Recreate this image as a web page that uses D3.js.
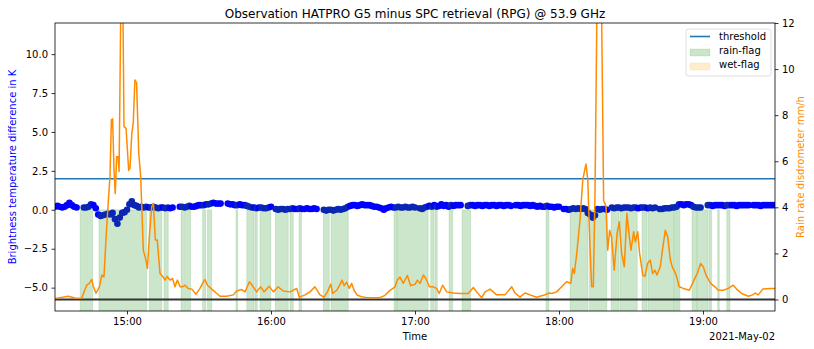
<!DOCTYPE html>
<html>
<head>
<meta charset="utf-8">
<script src="https://cdn.jsdelivr.net/npm/d3@7"></script>
<style>
  body { margin: 0; background: #fff; }
  text { font-family: "DejaVu Sans", sans-serif; }
</style>
</head>
<body>
<div id="chart"></div>
<script>
// start of the plotted period, all times below are minutes after it
const startTime = new Date(2021, 4, 2, 14, 30);
const threshold = 2.0;

// Tb difference (K), one value per minute from 14:30, null = no data
const tbDiff = [
  0.2, 0.25, 0.2, 0.15, 0.2, 0.3, 0.45, 0.3, 0.2, 0.15,
  null, null, 0.15, 0.15, 0.2, 0.35, 0.3, 0.1, -0.3, -0.4,
  -0.35, -0.3, -0.25, -0.3, -0.2, -0.6, -0.9, -0.5, -0.2, -0.15,
  0.0, 0.35, 0.55, 0.3, 0.25, 0.15, 0.2, 0.15, 0.2, 0.15,
  0.15, 0.2, 0.15, 0.1, 0.15, 0.15, 0.1, 0.15, 0.1, 0.15,
  null, null, 0.2, 0.2, 0.15, 0.2, 0.25, 0.2, 0.2, 0.25,
  0.3, 0.3, 0.3, 0.35, 0.35, 0.4, 0.45, 0.4, 0.4, 0.4,
  null, null, 0.4, 0.35, 0.35, 0.3, 0.3, 0.35, 0.3, 0.3,
  0.25, 0.2, 0.15, 0.15, 0.1, 0.15, 0.15, 0.1, 0.1, 0.15,
  0.2, null, 0.05, 0.0, 0.05, 0.05, 0.0, 0.05, 0.05, 0.1,
  0.05, 0.05, 0.1, 0.05, 0.05, 0.1, 0.05, 0.05, 0.1, 0.05,
  null, null, 0.0, -0.05, 0.0, 0.0, -0.05, 0.0, 0.05, 0.0,
  0.05, 0.1, 0.2, 0.25, 0.3, 0.3, 0.25, 0.3, 0.35, 0.3,
  0.3, 0.3, 0.25, 0.2, 0.2, 0.15, 0.1, 0.0, 0.1, 0.15,
  0.2, 0.15, 0.15, 0.2, 0.15, 0.15, 0.2, 0.15, 0.15, 0.2,
  0.15, null, 0.1, 0.05, 0.15, 0.2, 0.25, 0.2, 0.3, 0.2,
  0.25, 0.35, 0.25, 0.3, 0.2, 0.3, 0.25, 0.3, 0.3, 0.3,
  null, null, 0.25, 0.3, 0.3, 0.25, 0.3, 0.3, 0.25, 0.3,
  0.3, 0.25, 0.3, 0.3, 0.25, 0.3, 0.3, 0.25, 0.3, 0.3,
  0.25, null, 0.3, 0.3, 0.25, 0.3, 0.3, 0.3, 0.25, 0.3,
  0.25, 0.2, 0.25, 0.2, 0.2, 0.25, 0.2, 0.2, 0.15, 0.2,
  0.2, null, 0.05, 0.05, 0.0, 0.05, 0.1, 0.05, 0.1, 0.05,
  0.1, 0.05, -0.2, -0.3, -0.5, -0.35, 0.05, 0.0, 0.05, 0.05,
  0.0, null, 0.15, 0.1, 0.15, 0.15, 0.1, 0.15, 0.15, 0.15,
  0.1, 0.15, 0.15, 0.1, 0.15, 0.15, 0.15, 0.1, 0.15, 0.1,
  0.15, null, 0.05, 0.05, 0.1, 0.1, 0.1, 0.15, 0.15, 0.2,
  0.35, 0.35, 0.3, 0.35, 0.35, 0.3, 0.2, 0.15, 0.15, 0.15,
  null, null, 0.3, 0.3, 0.25, 0.3, 0.3, 0.3, 0.3, 0.25,
  0.3, 0.3, 0.3, 0.3, 0.25, 0.3, 0.3, 0.3, 0.3, 0.3,
  null, 0.3, 0.3, 0.3, 0.25, 0.3, 0.3, 0.3, 0.3, 0.3,
  0.3
];

// disdrometer rain rate (mm/h)
const rainTimeMin = [
  0, 2.1, 5.5, 8.3, 11.1, 13.2, 14.3, 15.3, 16.0, 17.1,
  18.5, 19.5, 20.4, 21.3, 22.2, 22.9, 23.5, 24.0, 24.6, 25.1,
  25.7, 26.3, 26.7, 27.9, 28.75, 29.6, 30.7, 31.25, 32.0, 32.6,
  33.3, 34.0, 34.9, 35.7, 36.8, 37.9, 38.5, 39.3, 40.3, 41.0,
  41.8, 42.6, 43.75, 44.9, 45.8, 46.8, 47.9, 49.0, 50.0, 51.0,
  52.1, 53.2, 54.2, 55.5, 57.0, 58.75, 60.4, 61.5, 62.5, 63.5,
  65.3, 67.4, 68.75, 71.5, 74.3, 75.7, 77.8, 79.2, 81.0, 82.6,
  84.0, 85.7, 87.1, 89.3, 91.0, 93.0, 95.1, 97.9, 100.7, 101.8,
  104.2, 106.25, 108.3, 110.4, 112.1, 113.5, 114.9, 115.7, 117.4, 118.5,
  119.6, 120.5, 121.5, 122.6, 123.6, 124.6, 126.0, 127.8, 129.9, 132.0,
  135.4, 137.5, 139.6, 141.7, 142.6, 143.75, 145.1, 146.8, 148.2, 150.0,
  151.0, 152.1, 153.5, 154.6, 156.0, 157.4, 159.0, 160.1, 161.5, 163.2,
  166.0, 168.75, 172.2, 174.3, 175.7, 177.8, 179.2, 181.25, 184.0, 187.5,
  190.3, 191.7, 193.75, 195.8, 197.9, 200.7, 203.5, 206.0, 207.0, 209.0,
  211.1, 213.2, 214.9, 215.7, 216.4, 217.4, 218.75, 219.9, 221.25, 222.0,
  222.9, 223.6, 224.3, 225.0, 226.75, 228.6, 229.6, 230.3, 231.1, 231.9,
  233.0, 234.2, 235.1, 236.1, 237.2, 238.3, 239.3, 240.0, 241.1, 241.8,
  242.8, 243.6, 244.9, 245.8, 246.9, 248.0, 249.0, 250.0, 250.8, 252.2,
  253.3, 254.3, 255.3, 256.4, 257.4, 258.0, 259.0, 260.1, 261.8, 264.3,
  266.25, 267.6, 269.0, 270.1, 271.5, 273.2, 275.0, 276.4, 278.5, 280.5,
  282.6, 284.0, 286.1, 288.9, 290.7, 291.7, 293.0, 294.9, 297.9, 300.0
];
const rainRate = [
  0.04, 0.08, 0.14, 0.06, 0.05, 0.62, 0.7, 0.87, 0.55, 0.27,
  0.55, 1.06, 0.98, 2.72, 4.24, 5.33, 7.8, 7.84, 5.6, 4.6,
  6.2, 6.2, 5.55, 17.5, 7.5, 7.43, 5.6, 5.7, 7.2, 7.65,
  9.53, 9.39, 6.35, 5.33, 2.14, 1.71, 1.35, 2.72, 4.03, 4.17,
  2.58, 2.58, 1.13, 1.0, 0.84, 1.0, 0.84, 0.91, 0.55, 0.84,
  0.55, 0.55, 0.62, 0.48, 0.45, 0.23, 0.48, 0.7, 0.87, 0.62,
  0.45, 0.26, 0.14, 0.14, 0.2, 0.37, 0.43, 0.33, 0.77, 0.55,
  0.33, 0.55, 0.33, 0.57, 0.33, 0.55, 0.37, 0.33, 0.48, 0.1,
  0.2, 0.33, 0.55, 0.2, 0.1, 0.33, 0.66, 0.26, 0.4, 0.6,
  0.84, 0.6, 0.75, 0.48, 0.7, 0.4, 0.18, 0.12, 0.08, 0.08,
  0.08, 0.18, 0.4, 0.55, 0.84, 0.97, 0.7, 1.04, 0.6, 0.66,
  0.84, 0.7, 1.06, 0.9, 0.55, 0.55, 0.48, 0.26, 0.62, 0.33,
  0.28, 0.26, 0.26, 0.52, 0.33, 0.08, 0.33, 0.45, 0.2, 0.2,
  0.55, 0.28, 0.1, 0.28, 0.2, 0.1, 0.18, 0.28, 0.26, 0.33,
  0.55, 0.77, 0.7, 1.35, 1.13, 2.0, 3.45, 5.19, 5.88, 5.19,
  2.29, 0.55, 0.55, 4.6, 22, 4.3, 4.03, 2.14, 3.0, 2.72,
  1.27, 2.87, 3.37, 2.0, 1.42, 3.74, 2.72, 2.14, 2.94, 2.5,
  2.94, 2.0, 1.06, 1.0, 1.56, 1.71, 1.13, 1.27, 1.06, 1.42,
  2.29, 3.0, 2.72, 1.71, 1.35, 1.27, 1.0, 0.55, 0.48, 0.4,
  0.84, 1.13, 1.56, 1.42, 1.0, 0.7, 0.55, 0.4, 0.4, 0.48,
  0.62, 0.45, 0.26, 0.14, 0.2, 0.28, 0.2, 0.45, 0.48, 0.48
];

// rain-flag periods (minutes after 14:30)
const rainFlagStart = [10.5, 18.3, 39.3, 45.4, 52.5, 53.9, 61.5, 63.5, 75.4, 79.9, 83.3, 85.4,
  91.8, 97.9, 101.7, 111.8, 115.0, 141.25, 142.7, 156.5, 158.3, 164.2, 169.6, 204.6,
  214.6, 222.7, 231.7, 235.4, 244.6, 247.1, 258.0, 259.3, 265.4, 267.5, 272.5, 276.1, 279.9];
const rainFlagEnd = [15.7, 38.2, 44.5, 47.2, 53.5, 56.5, 62.8, 65.3, 76.1, 82.9, 84.3, 89.9,
  97.2, 99.3, 102.7, 114.3, 122.2, 142.5, 155.5, 157.9, 159.3, 165.7, 173.2, 205.8,
  222.1, 229.9, 235.0, 242.6, 246.7, 257.8, 259.0, 260.4, 267.3, 272.1, 273.6, 276.8, 281.25];

const leftTicks = [-5, -2.5, 0, 2.5, 5, 7.5, 10];
const rightTicks = [0, 2, 4, 6, 8, 10, 12];
const hourTicks = [15, 16, 17, 18, 19];

const width = 814, height = 349;
const margin = {top: 23, right: 39, bottom: 38, left: 55};
const plotW = width - margin.left - margin.right;
const plotH = height - margin.top - margin.bottom;

const toTime = m => new Date(startTime.getTime() + m * 60000);

const x = d3.scaleTime()
  .domain([toTime(0), toTime(300)])
  .range([margin.left, margin.left + plotW]);
const yL = d3.scaleLinear().domain([-6.5, 12]).range([margin.top + plotH, margin.top]);
const yR = d3.scaleLinear().domain([-0.5, 12]).range([margin.top + plotH, margin.top]);

const svg = d3.select('#chart').append('svg')
  .attr('width', width)
  .attr('height', height);

svg.append('defs').append('clipPath').attr('id', 'plot-clip')
  .append('rect')
  .attr('x', margin.left).attr('y', margin.top)
  .attr('width', plotW).attr('height', plotH);

const plot = svg.append('g').attr('clip-path', 'url(#plot-clip)');

// rain flag fills, from the bottom up to 0 K
const flags = d3.zip(rainFlagStart, rainFlagEnd);
plot.selectAll('.rain-flag')
  .data(flags)
  .enter()
  .append('rect')
  .attr('class', 'rain-flag')
  .attr('x', d => x(toTime(d[0])))
  .attr('width', d => x(toTime(d[1])) - x(toTime(d[0])))
  .attr('y', yL(0))
  .attr('height', yL(-6.5) - yL(0))
  .attr('fill', 'green')
  .attr('fill-opacity', 0.2)
  .attr('stroke', 'green')
  .attr('stroke-opacity', 0.12)
  .attr('stroke-width', 1);

const isFlagged = m => flags.some(f => m >= f[0] && m <= f[1]);

// Tb difference points
const tbPoints = tbDiff.map((v, i) => ({m: i, v: v})).filter(d => d.v !== null);
plot.selectAll('.tb-pt')
  .data(tbPoints)
  .enter()
  .append('circle')
  .attr('class', 'tb-pt')
  .attr('cx', d => x(toTime(d.m)))
  .attr('cy', d => yL(d.v))
  .attr('r', 3.3)
  .attr('fill', d => isFlagged(d.m) ? '#0a26b2' : '#0000ff');

// threshold line
plot.append('line')
  .attr('x1', margin.left).attr('x2', margin.left + plotW)
  .attr('y1', yL(threshold)).attr('y2', yL(threshold))
  .attr('stroke', '#1f77b4')
  .attr('stroke-width', 1.6);

// zero line of the rain axis
plot.append('line')
  .attr('x1', margin.left).attr('x2', margin.left + plotW)
  .attr('y1', yR(0)).attr('y2', yR(0))
  .attr('stroke', '#333333')
  .attr('stroke-width', 2);

// rain rate line
const rainLine = d3.line()
  .x(d => x(toTime(d[0])))
  .y(d => yR(d[1]));
plot.append('path')
  .datum(d3.zip(rainTimeMin, rainRate))
  .attr('d', rainLine)
  .attr('fill', 'none')
  .attr('stroke', 'darkorange')
  .attr('stroke-width', 1.5)
  .attr('stroke-linejoin', 'round');

// axes
const xAxis = d3.axisBottom(x)
  .tickValues(hourTicks.map(h => new Date(2021, 4, 2, h, 0)))
  .tickFormat(d3.timeFormat('%H:%M'))
  .tickSizeOuter(0).tickSize(3.5).tickPadding(3.5);
const gx = svg.append('g')
  .attr('transform', `translate(0,${margin.top + plotH})`)
  .call(xAxis);

const gl = svg.append('g')
  .attr('transform', `translate(${margin.left},0)`)
  .call(d3.axisLeft(yL).tickValues(leftTicks).tickFormat(d3.format('.1f'))
    .tickSizeOuter(0).tickSize(3.5).tickPadding(3.5));

const gr = svg.append('g')
  .attr('transform', `translate(${margin.left + plotW},0)`)
  .call(d3.axisRight(yR).tickValues(rightTicks)
    .tickSizeOuter(0).tickSize(3.5).tickPadding(3.5));

[gx, gl, gr].forEach(g => {
  g.select('.domain').remove();
  g.selectAll('.tick line').attr('stroke', '#000').attr('stroke-width', 0.8);
  g.selectAll('.tick text').attr('fill', '#000').style('font-size', '10px')
    .style('font-family', '"DejaVu Sans", sans-serif');
});

// frame
svg.append('rect')
  .attr('x', margin.left).attr('y', margin.top)
  .attr('width', plotW).attr('height', plotH)
  .attr('fill', 'none')
  .attr('stroke', '#000')
  .attr('stroke-width', 0.8);

// labels
svg.append('text')
  .text('Observation HATPRO G5 minus SPC retrieval (RPG) @ 53.9 GHz')
  .attr('x', margin.left + plotW / 2).attr('y', 18)
  .attr('text-anchor', 'middle')
  .style('font-size', '12px')
  .attr('fill', '#000');

svg.append('text')
  .text('Time')
  .attr('x', margin.left + plotW / 2).attr('y', 340)
  .attr('text-anchor', 'middle')
  .style('font-size', '10px')
  .attr('fill', '#000');

svg.append('text')
  .text('2021-May-02')
  .attr('x', margin.left + plotW).attr('y', 340)
  .attr('text-anchor', 'end')
  .style('font-size', '10px')
  .attr('fill', '#000');

svg.append('text')
  .text('Brightness temperature difference in K')
  .attr('transform', `translate(16,${margin.top + plotH / 2}) rotate(-90)`)
  .attr('text-anchor', 'middle')
  .style('font-size', '10px')
  .attr('fill', 'blue');

svg.append('text')
  .text('Rain rate disdrometer mm/h')
  .attr('transform', `translate(804,${margin.top + plotH / 2}) rotate(-90)`)
  .attr('text-anchor', 'middle')
  .style('font-size', '10px')
  .attr('fill', 'darkorange');

// legend
const lg = svg.append('g').attr('transform', 'translate(686,29)');
lg.append('rect')
  .attr('width', 85).attr('height', 47)
  .attr('rx', 2.5)
  .attr('fill', '#fff').attr('fill-opacity', 0.8)
  .attr('stroke', '#d6d6d6').attr('stroke-width', 0.8);

lg.append('line')
  .attr('x1', 4).attr('x2', 24).attr('y1', 7.5).attr('y2', 7.5)
  .attr('stroke', '#1f77b4').attr('stroke-width', 1.6);
lg.append('rect')
  .attr('x', 4).attr('y', 20).attr('width', 20).attr('height', 7)
  .attr('fill', 'green').attr('fill-opacity', 0.2)
  .attr('stroke', 'green').attr('stroke-opacity', 0.1);
lg.append('rect')
  .attr('x', 4).attr('y', 34).attr('width', 20).attr('height', 7)
  .attr('fill', 'orange').attr('fill-opacity', 0.2)
  .attr('stroke', 'orange').attr('stroke-opacity', 0.1);

['threshold', 'rain-flag', 'wet-flag'].forEach((t, i) => {
  lg.append('text')
    .text(t)
    .attr('x', 33).attr('y', 11 + i * 14)
    .style('font-size', '10px')
    .attr('fill', '#000');
});
</script>
</body>
</html>
